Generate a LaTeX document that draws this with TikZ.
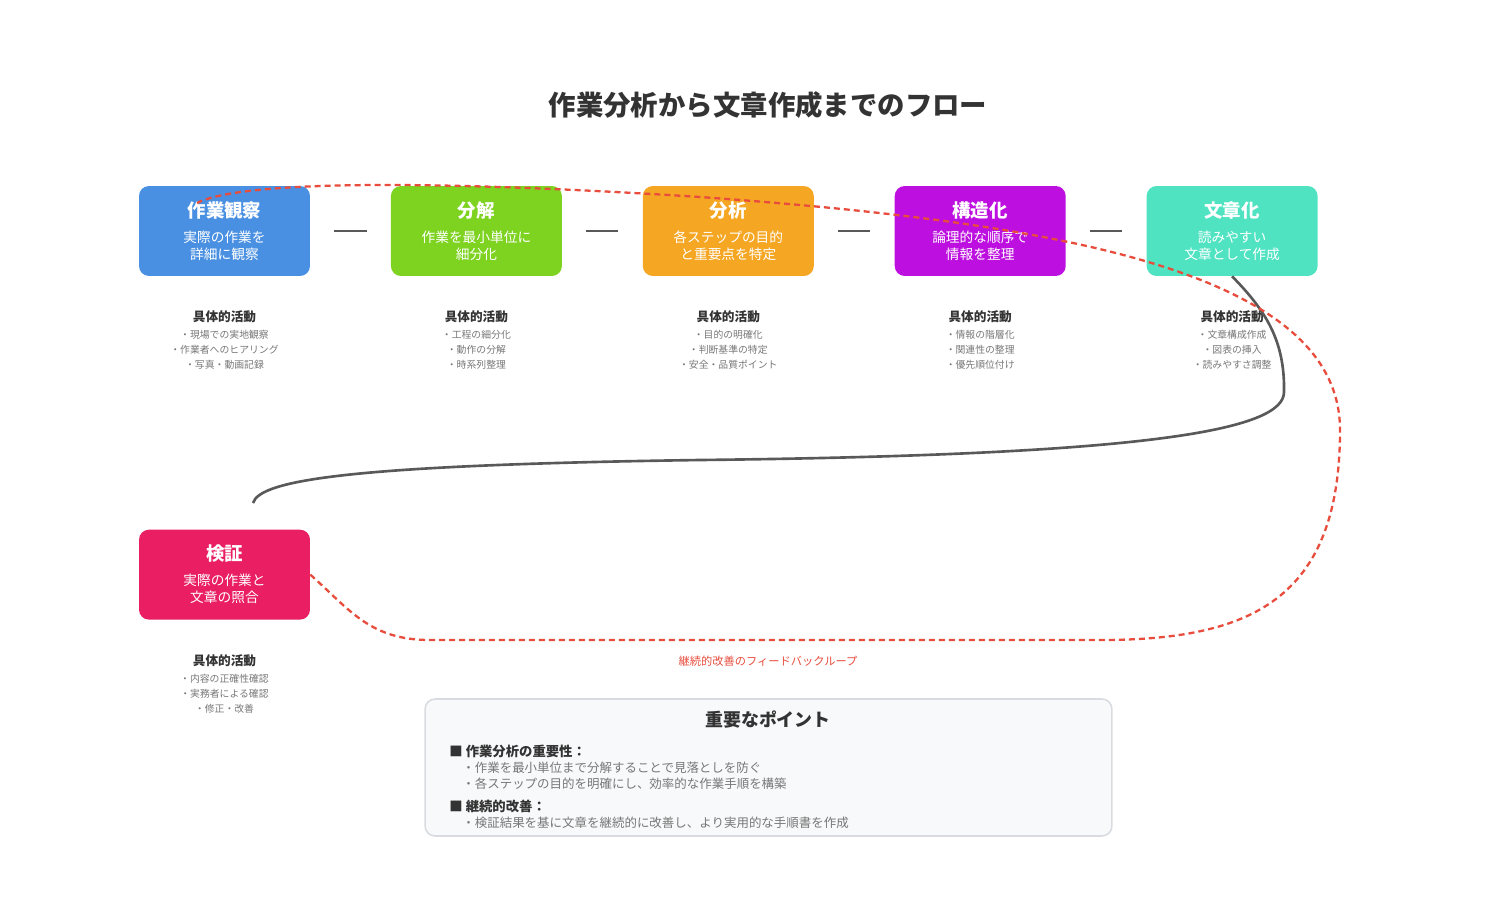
\documentclass[tikz,border=0pt]{standalone}
\usepackage{fontspec}
\setmainfont{Noto Sans CJK JP}
\usepackage{tikz}
\usetikzlibrary{positioning}
\definecolor{cblue}{HTML}{4A90E2}
\definecolor{cgreen}{HTML}{7ED321}
\definecolor{corange}{HTML}{F5A623}
\definecolor{cpurple}{HTML}{BD10E0}
\definecolor{cteal}{HTML}{50E3C2}
\definecolor{cpink}{HTML}{E91E63}
\definecolor{cred}{HTML}{E74C3C}
\definecolor{cdark}{HTML}{333333}
\definecolor{cgray}{HTML}{777777}
\definecolor{cpanel}{HTML}{F8F9FA}
\definecolor{cborder}{HTML}{D8DCE0}
\tikzset{
    Snode/.style = {
       shape=rectangle, rounded corners=0.2cm,
       align=center,
       minimum width = 3.42cm,
       minimum height = 1.8cm,
       text=white,
       font=\fontsize{7.8}{9.7}\selectfont
    },
    Anode/.style = {
       align=center, inner sep=0pt,
       text=cgray,
       font=\fontsize{5.6}{8.5}\selectfont
    },
    Pnode/.style = {
       anchor=west, inner sep=0pt,
       text=cgray,
       font=\fontsize{7.1}{8.5}\selectfont
    },
    Hnode/.style = {
       anchor=west, inner sep=0pt,
       text=cdark,
       font=\fontsize{7.6}{9}\selectfont\bfseries
    },
    link/.style = {draw=black!65, line width=1.7pt, shorten >=0.48cm, shorten <=0.48cm},
    flow/.style = {draw=black!65, line width=1.5pt},
    feedback/.style = {draw=cred, line width=1.3pt, dash pattern=on 0.12cm off 0.08cm}
%    mark/.style = {fill=red!70}
}
\begin{document}
\begin{tikzpicture}[x=0.02cm,y=-0.02cm,node distance=1.605cm]
   \useasboundingbox (0,0) rectangle (1500,903);
   \node[text=cdark, font=\fontsize{15.6}{18}\selectfont\bfseries] (Title) at (768,105) {作業分析から文章作成までのフロー};
   % steps
   \node[Snode, fill=cblue] (Observe) at (224.5,231) {{\fontsize{10.5}{12}\selectfont\bfseries 作業観察}\\[4.5pt]実際の作業を\\詳細に観察};
   \node[Snode, fill=cgreen] (Decompose) [right = of Observe] {{\fontsize{10.5}{12}\selectfont\bfseries 分解}\\[4.5pt]作業を最小単位に\\細分化};
   \node[Snode, fill=corange] (Analyze) [right = of Decompose] {{\fontsize{10.5}{12}\selectfont\bfseries 分析}\\[4.5pt]各ステップの目的\\と重要点を特定};
   \node[Snode, fill=cpurple] (Structure) [right = of Analyze] {{\fontsize{10.5}{12}\selectfont\bfseries 構造化}\\[4.5pt]論理的な順序で\\情報を整理};
   \node[Snode, fill=cteal] (Document) [right = of Structure] {{\fontsize{10.5}{12}\selectfont\bfseries 文章化}\\[4.5pt]読みやすい\\文章として作成};
   \node[Snode, fill=cpink] (Verify) [below = 5.06cm of Observe] {{\fontsize{10.5}{12}\selectfont\bfseries 検証}\\[4.5pt]実際の作業と\\文章の照合};
   % activities
   \node[Anode] (ObserveAct) [below = 0.68cm of Observe] {{\fontsize{7.2}{8.5}\selectfont\bfseries\color{cdark}具体的活動}\\[1.2pt]・現場での実地観察\\・作業者へのヒアリング\\・写真・動画記録};
   \node[Anode] (DecomposeAct) [below = 0.68cm of Decompose] {{\fontsize{7.2}{8.5}\selectfont\bfseries\color{cdark}具体的活動}\\[1.2pt]・工程の細分化\\・動作の分解\\・時系列整理};
   \node[Anode] (AnalyzeAct) [below = 0.68cm of Analyze] {{\fontsize{7.2}{8.5}\selectfont\bfseries\color{cdark}具体的活動}\\[1.2pt]・目的の明確化\\・判断基準の特定\\・安全・品質ポイント};
   \node[Anode] (StructureAct) [below = 0.68cm of Structure] {{\fontsize{7.2}{8.5}\selectfont\bfseries\color{cdark}具体的活動}\\[1.2pt]・情報の階層化\\・関連性の整理\\・優先順位付け};
   \node[Anode] (DocumentAct) [below = 0.68cm of Document] {{\fontsize{7.2}{8.5}\selectfont\bfseries\color{cdark}具体的活動}\\[1.2pt]・文章構成作成\\・図表の挿入\\・読みやすさ調整};
   \node[Anode] (VerifyAct) [below = 0.68cm of Verify] {{\fontsize{7.2}{8.5}\selectfont\bfseries\color{cdark}具体的活動}\\[1.2pt]・内容の正確性確認\\・実務者による確認\\・修正・改善};
   % loop ends
   \coordinate (LoopEnd) at (253,503);
   \coordinate (LoopStart) at (197,203);
\path[link]
(Observe) edge (Decompose)
(Decompose) edge (Analyze)
(Analyze) edge (Structure)
(Structure) edge (Document);
   \draw[flow] (Document.south) .. controls (1265,310) and (1285,340) .. (1284,392)
      .. controls (1284,430) and (1150,455) .. (700,460)
      .. controls (350,465) and (260,480) .. (LoopEnd);
   \draw[feedback] (Verify.east) .. controls (350,610) and (370,640) .. (430,640) -- (1100,640)
      .. controls (1250,640) and (1340,600) .. (1340,430)
      .. controls (1340,270) and (1050,222) .. (700,197)
      .. controls (500,184) and (250,176) .. (LoopStart);
   \node[text=cred, font=\fontsize{6.4}{8}\selectfont] (FeedbackLabel) at (768,661) {継続的改善のフィードバックループ};
   % key points
   \node[draw=cborder, line width=0.9pt, fill=cpanel, rounded corners=0.2cm, minimum width=13.74cm, minimum height=2.74cm] (Points) at (768.5,767.5) {};
   \node[text=cdark, font=\fontsize{10.2}{12}\selectfont\bfseries] (PointsTitle) at (768,720) {重要なポイント};
   \node[Hnode] (Importance) at (449,751) {■ 作業分析の重要性：};
   \node[Pnode] (ImportanceA) at (462,768) {・作業を最小単位まで分解することで見落としを防ぐ};
   \node[Pnode] (ImportanceB) at (462,784) {・各ステップの目的を明確にし、効率的な作業手順を構築};
   \node[Hnode] (Improve) at (449,806) {■ 継続的改善：};
   \node[Pnode] (ImproveA) at (462,823) {・検証結果を基に文章を継続的に改善し、より実用的な手順書を作成};
\end{tikzpicture}
\end{document}
